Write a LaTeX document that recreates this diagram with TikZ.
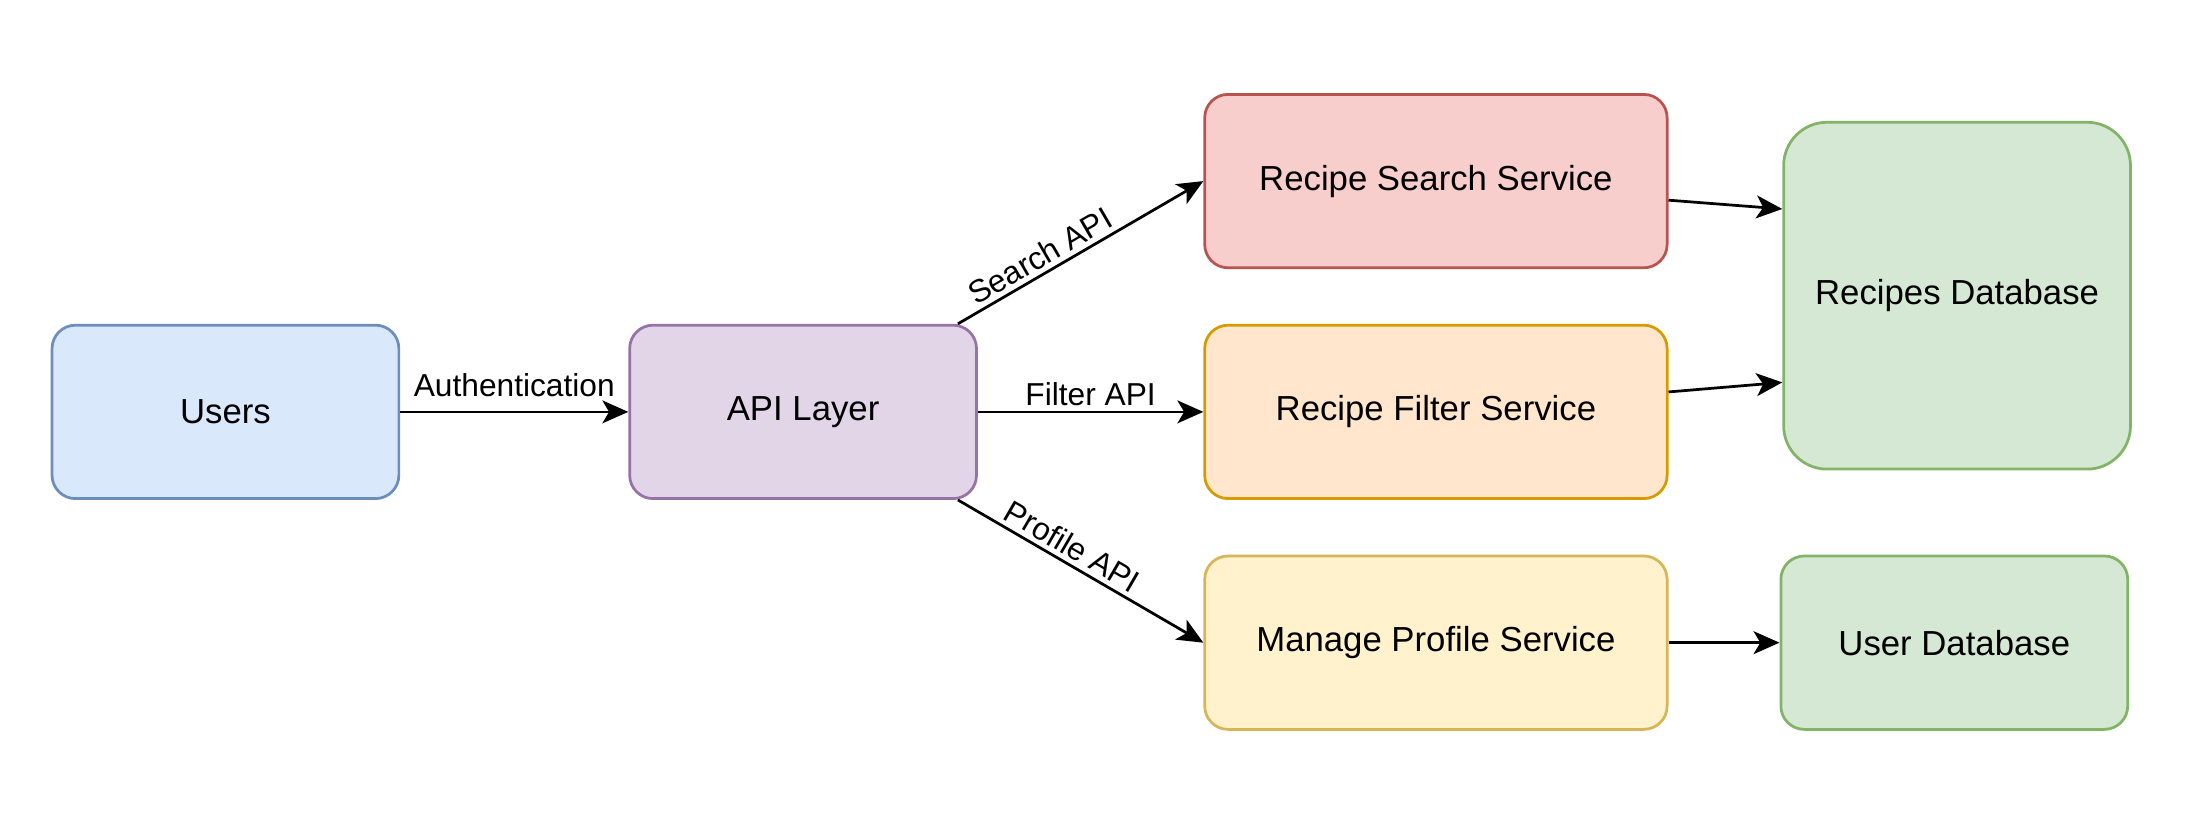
\documentclass[tikz,border=0pt]{standalone}
\usepackage{fontspec}
\setmainfont{Liberation Sans}
\usepackage{xcolor}
\usepackage{tikz}
\usetikzlibrary{arrows.meta,positioning}

\definecolor{userfill}{HTML}{DAE8FC}
\definecolor{userline}{HTML}{6C8EBF}
\definecolor{apifill}{HTML}{E1D5E7}
\definecolor{apiline}{HTML}{9673A6}
\definecolor{searchfill}{HTML}{F8CECC}
\definecolor{searchline}{HTML}{B85450}
\definecolor{filterfill}{HTML}{FFE6CC}
\definecolor{filterline}{HTML}{D79B00}
\definecolor{profilefill}{HTML}{FFF2CC}
\definecolor{profileline}{HTML}{D6B656}
\definecolor{dbfill}{HTML}{D5E8D4}
\definecolor{dbline}{HTML}{82B366}

\tikzset{
  >={Stealth[length=8.5pt,width=7.5pt,inset=2.2pt]},
  box/.style={draw, line width=0.9pt, rounded corners=0.27cm, minimum width=4cm,
    minimum height=2cm, align=center, font=\fontsize{11.4}{13.5}\selectfont},
  wide/.style={box, minimum width=5.333cm},
  arr/.style={->, line width=0.9pt},
  lbl/.style={font=\fontsize{10.4}{12.5}\selectfont, inner sep=1.5pt}
}

\begin{document}
\begin{tikzpicture}
        \useasboundingbox (0,0) rectangle (25.51,-9.666);

        % Clients and gateway
        \node[box, fill=userfill, draw=userline] (users) at (2.6,-4.75) {Users};
        \node[box, fill=apifill, draw=apiline, right=2.63cm of users] (api) {API Layer};

        % Services
        \node[wide, fill=filterfill, draw=filterline, right=2.6cm of api] (filter) {Recipe Filter Service};
        \node[wide, fill=searchfill, draw=searchline, above=0.63cm of filter] (search) {Recipe Search Service};
        \node[wide, fill=profilefill, draw=profileline, below=0.63cm of filter] (profile) {Manage Profile Service};

        % Databases
        \node[box, fill=dbfill, draw=dbline, minimum height=4cm, rounded corners=0.5cm] (recipesdb) at (22.57,-3.41) {Recipes Database};
        \node[box, fill=dbfill, draw=dbline, right=1.28cm of profile] (userdb) {User Database};

        % Requests
        \draw[arr] (users) -- node[lbl, above=3pt] {Authentication} (api);
        \draw[arr] ([xshift=-0.23cm]api.north east) -- node[lbl, pos=0.37, sloped, above] {Search API} (search.west);
        \draw[arr] (api) -- node[lbl, above] {Filter API} (filter);
        \draw[arr] ([xshift=-0.23cm]api.south east) -- node[lbl, pos=0.43, sloped, above] {Profile API} (profile.west);

        % Data access
        \draw[arr] ([yshift=-0.22cm]search.east) -- ([yshift=1cm]recipesdb.west);
        \draw[arr] ([yshift=0.23cm]filter.east) -- ([yshift=-1cm]recipesdb.west);
        \draw[arr] (profile) -- (userdb);
    \end{tikzpicture}
\end{document}
